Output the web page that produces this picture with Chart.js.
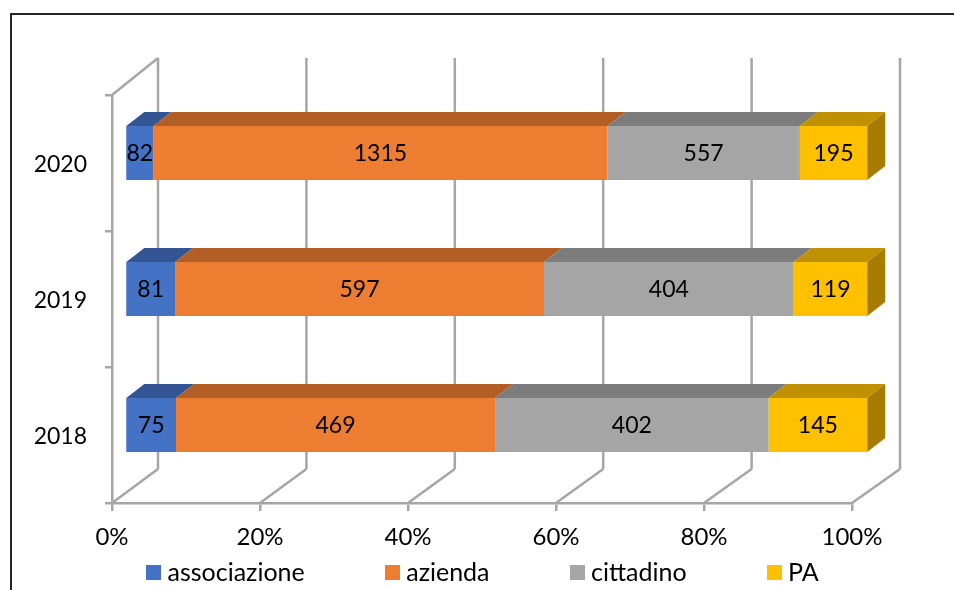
<!DOCTYPE html>
<html>
<head>
<meta charset="utf-8">
<style>
html,body{margin:0;padding:0;background:#fff;}
#wrap{position:relative;width:954px;height:590px;overflow:hidden;}
#frameTop{position:absolute;left:10px;top:13px;right:0;height:2px;background:#262626;}
#frameLeft{position:absolute;left:10px;top:13px;bottom:0;width:2px;background:#262626;}
canvas{position:absolute;left:0;top:0;}
</style>
<script src="https://cdn.jsdelivr.net/npm/chart.js@4"></script>
</head>
<body>
<div id="wrap">
<div id="frameTop"></div><div id="frameLeft"></div>
<canvas id="c" width="954" height="590"></canvas>
</div>
<script>
const categories = ['2018', '2019', '2020'];
const associazione = [75, 81, 82];
const azienda = [469, 597, 1315];
const cittadino = [402, 404, 557];
const pa = [145, 119, 195];
const seriesNames = ['associazione', 'azienda', 'cittadino', 'PA'];
const seriesValues = [associazione, azienda, cittadino, pa];
const xTicks = [0, 20, 40, 60, 80, 100];

const frontColors = ['#4472C4', '#ED7D31', '#A5A5A5', '#FFC000'];
const topColors = ['#335593', '#B25E25', '#7C7C7C', '#BF9000'];
const sideColor = '#A67D00';
const gridColor = '#A6A6A6';
const FONT = {family: 'Lato', size: 24};
const DIGIT_FONT = {family: 'Lato', size: 23};
const LEGEND_FONT = {family: 'Lato', size: 25};
const LINE = 2.5;

const totals = categories.map((_, i) => seriesValues.reduce((s, v) => s + v[i], 0));

function swatch(color) {
  const c = document.createElement('canvas');
  c.width = 15; c.height = 15;
  const g = c.getContext('2d');
  g.fillStyle = color; g.fillRect(0, 0, 15, 15);
  return c;
}

const depth = {wallX: 46, wallStretch: 1.0027, wallY: -34, barX: 18, barY: -14, planeX: 13, planeStretch: 1.003, planeY: -10};

const threeD = {
  id: 'threeD',
  afterLayout(chart) {
    const l = chart.legend;
    const pad = l.options.labels.padding;
    l.left = 152 - pad; l.right = 954; l.width = l.right - l.left;
    l.top = 560 - pad; l.height = 590 - l.top; l.bottom = 590;
  },
  beforeDatasetsDraw(chart) {
    const {ctx, scales: {x}, chartArea: a} = chart;
    ctx.save();
    ctx.strokeStyle = gridColor;
    ctx.lineWidth = LINE;
    const seg = (x1, y1, x2, y2) => { ctx.beginPath(); ctx.moveTo(x1, y1); ctx.lineTo(x2, y2); ctx.stroke(); };
    xTicks.forEach(v => {
      const p = x.getPixelForValue(v);
      const w = a.left + (p - a.left) * depth.wallStretch + depth.wallX;
      seg(w, a.top + depth.wallY - 3, w, a.bottom + depth.wallY);
      seg(p, a.bottom, w, a.bottom + depth.wallY);
    });
    seg(a.left, a.top, a.left + depth.wallX, a.top + depth.wallY - 3);
    ctx.restore();
    ctx.save();
    ctx.translate(a.left + depth.planeX, depth.planeY);
    ctx.scale(depth.planeStretch, 1);
    ctx.translate(-a.left, 0);
  },
  afterDatasetsDraw(chart) {
    const {ctx} = chart;
    const poly = (pts, color) => {
      ctx.fillStyle = color;
      ctx.beginPath();
      pts.forEach((p, i) => i ? ctx.lineTo(p[0], p[1]) : ctx.moveTo(p[0], p[1]));
      ctx.closePath();
      ctx.fill();
    };
    const dx = depth.barX, dy = depth.barY;
    chart.data.datasets.forEach((ds, di) => {
      chart.getDatasetMeta(di).data.forEach(bar => {
        const t = bar.y - bar.height / 2, b = bar.y + bar.height / 2;
        poly([[bar.base, t], [bar.base + dx, t + dy], [bar.x + dx, t + dy], [bar.x, t]], topColors[di]);
        if (di === chart.data.datasets.length - 1) {
          poly([[bar.x, t], [bar.x + dx, t + dy], [bar.x + dx, b + dy], [bar.x, b]], sideColor);
        }
      });
    });
    ctx.fillStyle = '#000';
    ctx.font = DIGIT_FONT.size + 'px ' + DIGIT_FONT.family;
    ctx.textAlign = 'center';
    ctx.textBaseline = 'middle';
    chart.data.datasets.forEach((ds, di) => {
      chart.getDatasetMeta(di).data.forEach((bar, i) => {
        ctx.fillText(String(seriesValues[di][i]), (bar.base + bar.x) / 2, bar.y + 1);
      });
    });
    ctx.restore();
  }
};

new Chart(document.getElementById('c'), {
  type: 'bar',
  plugins: [threeD],
  data: {
    labels: categories,
    datasets: seriesNames.map((name, di) => ({
      label: name,
      data: seriesValues[di].map((v, i) => v / totals[i] * 100),
      backgroundColor: frontColors[di],
      borderWidth: 0,
      categoryPercentage: 0.397,
      barPercentage: 1,
      clip: false
    }))
  },
  options: {
    indexAxis: 'y',
    responsive: false,
    animation: false,
    layout: {padding: {left: 0, right: 102, top: 95, bottom: 0}},
    plugins: {
      tooltip: {enabled: false},
      legend: {
        display: true,
        position: 'bottom',
        align: 'start',
        maxHeight: 1,
        labels: {
          font: LEGEND_FONT,
          color: '#000',
          padding: 86,
          usePointStyle: true,
          pointStyleWidth: 3,
          generateLabels(chart) {
            return Chart.defaults.plugins.legend.labels.generateLabels(chart).map((it, i) =>
              Object.assign(it, {pointStyle: swatch(frontColors[i])}));
          }
        }
      }
    },
    scales: {
      x: {
        type: 'linear',
        stacked: true,
        min: 0,
        max: 100,
        afterFit(s) { s.height = 86; },
        border: {color: gridColor, width: LINE},
        grid: {drawOnChartArea: false, drawTicks: true, tickLength: 8, color: gridColor, lineWidth: LINE},
        ticks: {
          stepSize: 20,
          maxRotation: 0,
          font: FONT,
          color: '#000',
          padding: 12,
          callback: v => v + '%'
        }
      },
      y: {
        type: 'category',
        stacked: true,
        reverse: true,
        afterFit(s) { s.width = 112; },
        border: {color: gridColor, width: LINE},
        grid: {drawOnChartArea: false, drawTicks: true, tickLength: 7, color: gridColor, lineWidth: LINE},
        ticks: {font: DIGIT_FONT, color: '#000', padding: 18, labelOffset: 2}
      }
    }
  }
});
</script>
</body>
</html>
